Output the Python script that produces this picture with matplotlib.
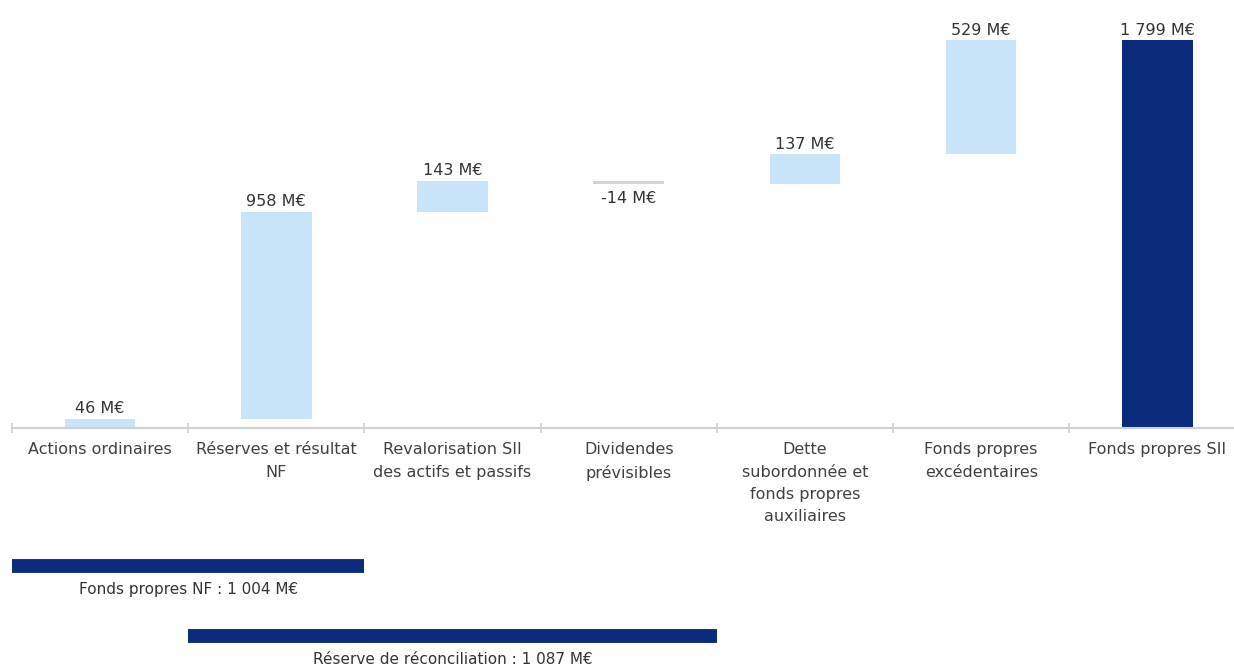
import matplotlib.pyplot as plt
import numpy as np

# Waterfall: passage des fonds propres NF aux fonds propres SII (M€)
categories = [
    "Actions ordinaires",
    "Réserves et résultat\nNF",
    "Revalorisation SII\ndes actifs et passifs",
    "Dividendes\nprévisibles",
    "Dette\nsubordonnée et\nfonds propres\nauxiliaires",
    "Fonds propres\nexcédentaires",
    "Fonds propres SII",
]
steps = [46, 958, 143, -14, 137, 529]
total = sum(steps)

# groupes affichés sous le graphique : (libellé, premier index, dernier index)
groups = [
    ("Fonds propres NF", 0, 1),
    ("Réserve de réconciliation", 1, 3),
]


def fmt(v):
    s = f"{abs(v):,}".replace(",", " ")
    return ("-" if v < 0 else "") + s + " M€"


light = "#C7E4F8"
navy = "#0B2C7D"
grey_bar = "#D4D4D4"
txt = "#333333"
axis_grey = "#D0D0D0"

plt.rcParams["font.family"] = ["DejaVu Sans"]

fig = plt.figure(figsize=(12.34, 6.71), dpi=100)
ax = fig.add_axes([0, 0, 1, 1])

cum = np.concatenate([[0], np.cumsum(steps)])
x = np.arange(len(categories))
bottoms = list(np.minimum(cum[:-1], cum[1:])) + [0]
heights = [abs(s) for s in steps] + [total]
values = steps + [total]
colors = [light if s >= 0 else grey_bar for s in steps] + [navy]

ax.bar(x, heights, bottom=bottoms, width=0.4, color=colors)

for i, v in enumerate(values):
    if v >= 0:
        ax.annotate(fmt(v), (x[i], bottoms[i] + heights[i]), xytext=(0, 2),
                    textcoords="offset points", ha="center", va="bottom",
                    fontsize=11.5, color=txt)
    else:
        ax.annotate(fmt(v), (x[i], bottoms[i]), xytext=(0, -5),
                    textcoords="offset points", ha="center", va="top",
                    fontsize=11.5, color=txt)

for side in ["left", "right", "top"]:
    ax.spines[side].set_visible(False)
ax.spines["bottom"].set_position(("data", 0))
ax.spines["bottom"].set_bounds(-0.5, 6.5)
ax.spines["bottom"].set_color(axis_grey)
ax.spines["bottom"].set_linewidth(1.5)
ax.set_yticks([])

ax.set_xticks(x)
ax.set_xticklabels(categories, fontsize=11.5, color="#404040", linespacing=1.6)
ax.set_xticks(np.arange(-0.5, 7, 1), minor=True)
ax.tick_params(axis="x", which="major", length=0, pad=10)
ax.tick_params(axis="x", which="minor", length=7, direction="inout",
               color=axis_grey, width=1.2)

# limites fixées après les ticks (set_xticks élargit la vue)
ax.set_xlim(-0.568, 6.435)
ax.set_ylim(-1124, 1986)

# bandeaux de regroupement sous l'axe
trans = ax.get_xaxis_transform()
band_y = [0.1565, 0.052]
label_y = [0.121, 0.0164]
for (name, i0, i1), by, ly in zip(groups, band_y, label_y):
    amount = int(sum(steps[i0:i1 + 1]))
    ax.hlines(by, i0 - 0.5, i1 + 0.5, transform=trans, color=navy, lw=10)
    ax.text((i0 + i1) / 2, ly, f"{name} : {fmt(amount)}", transform=trans,
            ha="center", va="center", fontsize=11, color=txt)

fig.savefig("out.png", dpi=100)
